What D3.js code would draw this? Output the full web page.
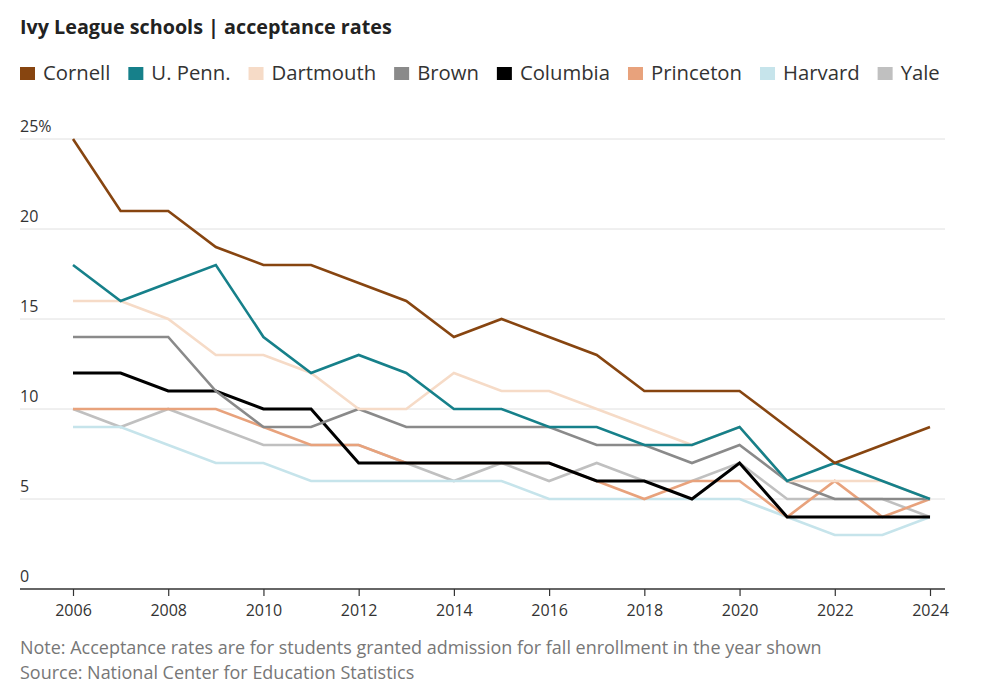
<!DOCTYPE html>
<html>
<head>
<meta charset="utf-8">
<script src="https://cdn.jsdelivr.net/npm/d3@7"></script>
<style>
  html, body { margin: 0; padding: 0; background: #fff; }
  svg { display: block; }
  text { font-family: "Open Sans", Lato, sans-serif; }
</style>
</head>
<body>
<svg id="chart" width="988" height="685"></svg>
<script>
// ---- data ----
const years = [2006,2007,2008,2009,2010,2011,2012,2013,2014,2015,2016,2017,2018,2019,2020,2021,2022,2023,2024];
const schools = ["Cornell","U. Penn.","Dartmouth","Brown","Columbia","Princeton","Harvard","Yale"];
const colors = ["#874510","#16808a","#f6dbc7","#8a8a8a","#000000","#e8a27c","#c6e4eb","#c0c0c0"];
const cornell   = [25,21,21,19,18,18,17,16,14,15,14,13,11,11,11,9,7,8,9];
const upenn     = [18,16,17,18,14,12,13,12,10,10,9,9,8,8,9,6,7,6,5];
const dartmouth = [16,16,15,13,13,12,10,10,12,11,11,10,9,8,9,6,6,6,5];
const brown     = [14,14,14,11,9,9,10,9,9,9,9,8,8,7,8,6,5,5,5];
const columbia  = [12,12,11,11,10,10,7,7,7,7,7,6,6,5,7,4,4,4,4];
const princeton = [10,10,10,10,9,8,8,7,7,7,7,6,5,6,6,4,6,4,5];
const harvard   = [9,9,8,7,7,6,6,6,6,6,5,5,5,5,5,4,3,3,4];
const yale      = [10,9,10,9,8,8,8,7,6,7,6,7,6,6,7,5,5,5,4];
const seriesValues = [cornell, upenn, dartmouth, brown, columbia, princeton, harvard, yale];
const yTicks = [0,5,10,15,20,25];
const xTicks = [2006,2008,2010,2012,2014,2016,2018,2020,2022,2024];
const titleText = "Ivy League schools | acceptance rates";
const noteText = "Note: Acceptance rates are for students granted admission for fall enrollment in the year shown";
const sourceText = "Source: National Center for Education Statistics";

// ---- layout ----
const svg = d3.select("#chart");
const left = 20, right = 945;
const x = d3.scaleLinear().domain([2006, 2024]).range([73, 930]);
const y = d3.scaleLinear().domain([0, 25]).range([589, 139]);

// fit a text element to a target width by adjusting font size
function fit(sel, target) {
  const w = sel.node().getComputedTextLength();
  const fs = parseFloat(sel.attr("font-size"));
  sel.attr("font-size", fs * target / w);
}

// title
const title = svg.append("text").attr("x", 20).attr("y", 34)
  .attr("font-size", 20).attr("font-weight", 700).attr("fill", "#222")
  .text(titleText);
fit(title, 372);

// legend
let lx = 20;
schools.forEach((s, i) => {
  const g = svg.append("g");
  g.append("rect").attr("x", lx).attr("y", 67).attr("width", 15).attr("height", 13)
    .attr("fill", colors[i]);
  const t = g.append("text").attr("x", lx + 23).attr("y", 80)
    .attr("font-size", 20.3).attr("fill", "#333").text(s);
  lx = lx + 23 + t.node().getComputedTextLength() + 18;
});

// gridlines
const grid = svg.append("g");
yTicks.filter(v => v > 0).forEach(v => {
  grid.append("line").attr("x1", left).attr("x2", right)
    .attr("y1", y(v)).attr("y2", y(v))
    .attr("stroke", "#e0e0e0").attr("stroke-width", 1);
});
// y labels
yTicks.forEach(v => {
  svg.append("text").attr("x", left).attr("y", y(v) - 7)
    .attr("font-size", 16).attr("fill", "#333")
    .text(v === 25 ? v + "%" : v);
});

// x axis
const xAxis = d3.axisBottom(x).tickValues(xTicks).tickFormat(d3.format("d"))
  .tickSize(7).tickSizeOuter(0).tickPadding(9);
const ax = svg.append("g").attr("transform", `translate(0,${y(0)})`).call(xAxis);
ax.select(".domain").remove();
ax.selectAll(".tick line").attr("stroke", "#333").attr("stroke-width", 1.2);
ax.selectAll(".tick text").attr("font-size", 16).attr("fill", "#333")
  .attr("font-family", "'Open Sans', sans-serif");
svg.append("line").attr("x1", left).attr("x2", right)
  .attr("y1", y(0)).attr("y2", y(0)).attr("stroke", "#333").attr("stroke-width", 1.5);

// lines (drawn in reverse legend order so Cornell ends on top)
const line = d3.line().x((d, i) => x(years[i])).y(d => y(d));
const order = d3.range(schools.length).reverse();
order.forEach(i => {
  svg.append("path").datum(seriesValues[i])
    .attr("d", line).attr("fill", "none")
    .attr("stroke", colors[i])
    .attr("stroke-width", i === 4 ? 3 : 2.6)
    .attr("stroke-linejoin", "miter");
});

// footnotes
const note = svg.append("text").attr("x", 20).attr("y", 654)
  .attr("font-size", 17).attr("fill", "#777").text(noteText);
fit(note, 802);
svg.append("text").attr("x", 20).attr("y", 679)
  .attr("font-size", note.attr("font-size")).attr("fill", "#777").text(sourceText);
</script>
</body>
</html>
